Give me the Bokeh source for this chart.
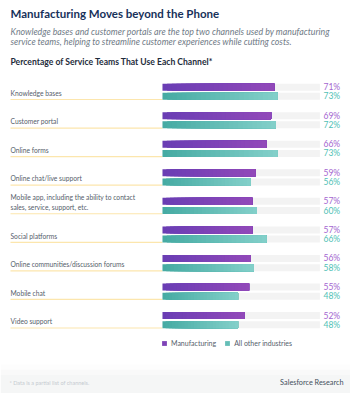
from bokeh.plotting import figure
from bokeh.models import Range1d, ColumnDataSource, Label, Legend, LegendItem, BoxAnnotation
from bokeh.core.properties import value
from bokeh.embed import file_html
from bokeh.resources import INLINE

# ---------------- data ----------------
categories = [
    "Knowledge bases",
    "Customer portal",
    "Online forms",
    "Online chat/live support",
    "Mobile app, including the ability to contact\nsales, service, support, etc.",
    "Social platforms",
    "Online communities/discussion forums",
    "Mobile chat",
    "Video support",
]
manufacturing = [71, 69, 66, 59, 57, 57, 56, 55, 52]
all_other = [73, 72, 73, 56, 60, 66, 58, 48, 48]
series_names = ["Manufacturing", "All other industries"]

title = "Manufacturing Moves beyond the Phone"
subtitle_lines = [
    "Knowledge bases and customer portals are the top two channels used by manufacturing",
    "service teams, helping to streamline customer experiences while cutting costs.",
]
heading = "Percentage of Service Teams That Use Each Channel*"
footnote = "* Data is a partial list of channels."
source_note = "Salesforce Research"

# ---------------- layout helpers ----------------
W, H = 350, 393
X0_PX, X100_PX = 162.0, 319.4
ROW0_PX, ROW_PX = 91.2, 28.56
UX = (X100_PX - X0_PX) / 100.0


def X(px):
    return (px - X0_PX) / UX


def Y(px):
    return (px - ROW0_PX) / ROW_PX


FONT = "Lato"
BAR_H = 7.0 / ROW_PX
OFF = 0.16

p = figure(width=W, height=H, output_backend="svg", toolbar_location=None,
           x_range=Range1d(X(0), X(W)), y_range=Range1d(Y(H), Y(0)),
           x_axis_location=None, y_axis_location=None,
           min_border=0, min_border_left=0, min_border_right=0,
           min_border_top=0, min_border_bottom=0)
p.grid.visible = False
p.outline_line_color = None
p.background_fill_color = "white"
p.border_fill_color = "white"

# footer band
p.add_layout(BoxAnnotation(top=Y(364), bottom=Y(369), fill_color="#fdfdfd", fill_alpha=1, line_color=None))
p.add_layout(BoxAnnotation(top=Y(369), bottom=Y(374), fill_color="#f9f9f9", fill_alpha=1, line_color=None))
p.add_layout(BoxAnnotation(top=Y(374), bottom=Y(H), fill_color="#f5f6f6", fill_alpha=1, line_color=None))

n = len(categories)
rows = list(range(n))

# underline under labels
p.segment(x0=[X(10)] * n, x1=[0] * n, y0=[r + 7.8 / ROW_PX for r in rows],
          y1=[r + 7.8 / ROW_PX for r in rows], line_color="#fce6ad", line_width=1.2)

# tracks
track_src = ColumnDataSource(dict(
    y=[r - OFF for r in rows] + [r + OFF for r in rows],
    right=[100] * (2 * n)))
p.hbar(y="y", left=0, right="right", height=BAR_H, source=track_src,
       fill_color="#f3f3f3", line_color=None)


def lerp_color(c0, c1, t):
    a = [int(c0[i:i + 2], 16) for i in (1, 3, 5)]
    b = [int(c1[i:i + 2], 16) for i in (1, 3, 5)]
    return "#%02x%02x%02x" % tuple(round(a[i] + (b[i] - a[i]) * t) for i in range(3))


N = 24


def gradient_source(vals, offset, c0, c1):
    ys, lefts, rights, colors = [], [], [], []
    for k in range(N):
        t = k / (N - 1)
        for r, v in zip(rows, vals):
            ys.append(r + offset)
            lefts.append(v * k / N)
            rights.append(v)
            colors.append(lerp_color(c0, c1, t))
    return ColumnDataSource(dict(y=ys, left=lefts, right=rights, color=colors))


src_m = gradient_source(manufacturing, -OFF, "#6a3db4", "#9149b9")
src_o = gradient_source(all_other, OFF, "#46aba3", "#82cfc9")
r_m = p.hbar(y="y", left="left", right="right", height=BAR_H, source=src_m,
             fill_color="color", line_color=None)
r_o = p.hbar(y="y", left="left", right="right", height=BAR_H, source=src_o,
             fill_color="color", line_color=None)

# value labels
p.text(x=[X(323)] * n, y=[r - OFF for r in rows], text=[f"{v}%" for v in manufacturing],
       text_font=value(FONT), text_font_size="8.5px", text_color="#a466d0",
       text_baseline="middle", text_align="left")
p.text(x=[X(323)] * n, y=[r + OFF for r in rows], text=[f"{v}%" for v in all_other],
       text_font=value(FONT), text_font_size="8.5px", text_color="#4fbfb5",
       text_baseline="middle", text_align="left")

# category labels
p.text(x=[X(10)] * n, y=[r + 5.0 / ROW_PX for r in rows], text=categories,
       text_font=value(FONT), text_font_size="6.7px", text_color="#55606b",
       text_baseline="bottom", text_align="left", text_line_height=1.25)

# titles
p.add_layout(Label(x=X(10), y=Y(12.7), text=title, text_font=FONT, text_font_size="11.5px",
                   text_font_style="bold", text_color="#17315a", text_baseline="middle"))
for i, line in enumerate(subtitle_lines):
    p.add_layout(Label(x=X(10), y=Y(30.7 + 10.4 * i), text=line, text_font=FONT, text_font_size="8.8px",
                       text_font_style="italic", text_color="#6f7a86", text_baseline="middle"))
p.add_layout(Label(x=X(10), y=Y(61.7), text=heading, text_font=FONT, text_font_size="8.6px",
                   text_font_style="bold", text_color="#1e2c3b", text_baseline="middle"))
p.add_layout(Label(x=X(9), y=Y(382), text=footnote, text_font=FONT, text_font_size="5.5px",
                   text_color="#c5cbd1", text_baseline="middle"))
p.add_layout(Label(x=X(343), y=Y(382), text=source_note, text_font=FONT, text_font_size="7.3px",
                   text_color="#44505c", text_baseline="middle", text_align="right"))

# legend
legend = Legend(items=[LegendItem(label=series_names[0], renderers=[r_m], index=n * (N // 2)),
                       LegendItem(label=series_names[1], renderers=[r_o], index=n * (N // 2))],
                location=(161, 46), orientation="horizontal",
                glyph_width=6, glyph_height=6, label_height=6, label_standoff=4, spacing=8,
                padding=0, margin=0, border_line_color=None, background_fill_alpha=0,
                label_text_font=FONT, label_text_font_size="7px", label_text_color="#55606b")
p.add_layout(legend)

open("out.html", "w").write(file_html(p, INLINE))
